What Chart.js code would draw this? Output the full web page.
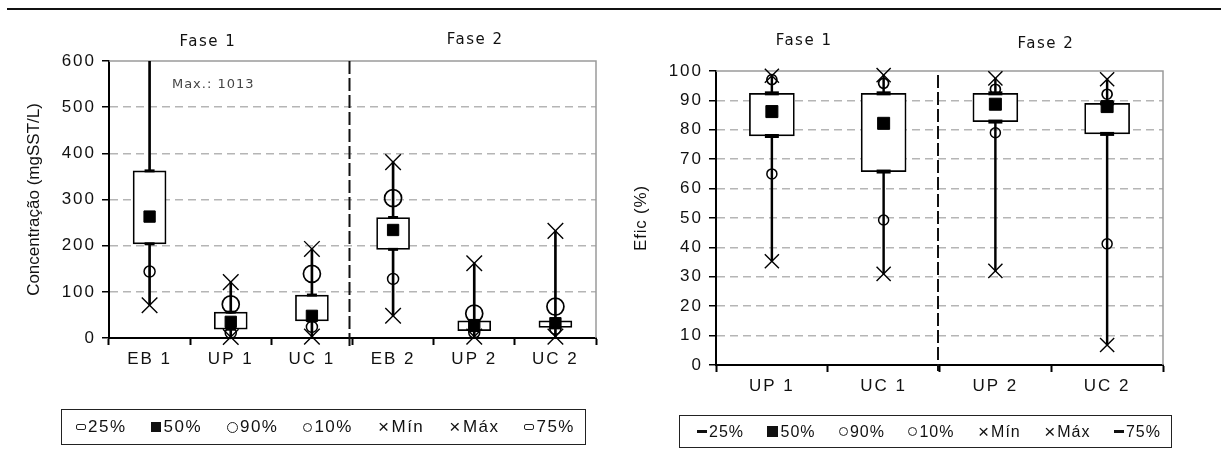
<!DOCTYPE html>
<html>
<head>
<meta charset="utf-8">
<script src="https://cdn.jsdelivr.net/npm/chart.js@4.4.1/dist/chart.umd.min.js"></script>
<style>
  body { margin: 0; width: 1221px; height: 457px; background: #fff; position: relative; overflow: hidden; }
  #rule { position: absolute; left: 7px; top: 8px; width: 1214px; height: 2px; background: #111; }
  #leftChart { position: absolute; left: 0; top: 0; }
  #rightChart { position: absolute; left: 610px; top: 0; }
  .legend { position: absolute; box-sizing: border-box; border: 1.5px solid #222; display: flex; align-items: center; justify-content: space-between; color: #111; white-space: nowrap; }
  .legend .item { display: flex; align-items: center; }
  .legend .mk { display: inline-block; box-sizing: border-box; margin-right: 2px; }
  .legend .x { font-size: 19px; margin-right: 1px; }
  #legendLeft { left: 61px; top: 409px; width: 525px; height: 36px; padding: 0 10px 0 14px; font: 17px "Liberation Sans", Arial, sans-serif; letter-spacing: 1.5px; }
  #legendRight { left: 679px; top: 415px; width: 493px; height: 33px; padding: 0 10px 0 17px; font: 16px "Liberation Sans Narrow", "Liberation Sans", Arial, sans-serif; letter-spacing: 1px; }
</style>
</head>
<body>
<div id="rule"></div>
<canvas id="leftChart" width="610" height="457"></canvas>
<canvas id="rightChart" width="611" height="457"></canvas>
<div id="legendLeft" class="legend"></div>
<div id="legendRight" class="legend"></div>
<script>
// series names, same order as the legend
const seriesNames = ['25%', '50%', '90%', '10%', 'Mín', 'Máx', '75%'];

// left: concentration (mgSST/L)
const leftLabels = ['EB 1', 'UP 1', 'UC 1', 'EB 2', 'UP 2', 'UC 2'];
const leftMin = [71, 2, 3, 48, 3, 3];
const leftP10 = [144, 11, 24, 128, 12, 20];
const leftP25 = [204, 19, 37, 192, 16, 23];
const leftP50 = [263, 35, 48, 234, 28, 32];
const leftP75 = [362, 56, 93, 261, 37, 37];
const leftP90 = [null, 73, 139, 303, 53, 68];
const leftMax = [1013, 121, 193, 381, 162, 232];
const leftTicks = [0, 100, 200, 300, 400, 500, 600];

// right: efficiency (%)
const rightLabels = ['UP 1', 'UC 1', 'UP 2', 'UC 2'];
const rightMin = [35.3, 31, 32, 6.8];
const rightP10 = [65, 49.3, 79, 41.2];
const rightP25 = [77.9, 65.8, 82.8, 78.6];
const rightP50 = [86.2, 82.2, 88.7, 87.9];
const rightP75 = [92.4, 92.4, 92.4, 89];
const rightP90 = [97.1, 95.8, 93.8, 92.1];
const rightMax = [98.4, 98.6, 97.5, 97.2];
const rightTicks = [0, 10, 20, 30, 40, 50, 60, 70, 80, 90, 100];

const tickFont = { family: '"Liberation Sans", Arial, sans-serif', size: 17 };

// frame, phase divider, phase titles and notes; also letter spacing of the stretched Excel text
const boxDecor = {
  id: 'boxDecor',
  beforeDraw(chart, args, o) {
    chart.ctx.letterSpacing = o.titleSpacing;
  },
  beforeDatasetsDraw(chart, args, o) {
    const { ctx, chartArea: a, scales: { x } } = chart;
    ctx.save();
    ctx.strokeStyle = '#9a9a9a';
    ctx.lineWidth = 1.5;
    ctx.beginPath();
    ctx.moveTo(a.left, a.top);
    ctx.lineTo(a.right, a.top);
    ctx.lineTo(a.right, a.bottom);
    ctx.stroke();

    const xd = (x.getPixelForValue(o.splitAfter) + x.getPixelForValue(o.splitAfter + 1)) / 2 + o.splitShift;
    ctx.strokeStyle = '#111';
    ctx.lineWidth = 2;
    ctx.setLineDash([13, 4]);
    ctx.beginPath();
    ctx.moveTo(xd, a.top + o.splitTop);
    ctx.lineTo(xd, a.bottom + o.splitBelow);
    ctx.stroke();
    ctx.restore();
  },
  afterDatasetsDraw(chart, args, o) {
    chart.ctx.letterSpacing = o.tickSpacing;
  },
  afterDraw(chart, args, o) {
    const { ctx, chartArea: a, scales: { x, y } } = chart;
    ctx.save();
    ctx.textAlign = 'center';
    ctx.textBaseline = 'middle';
    ctx.letterSpacing = '1.5px';
    ctx.font = '15px "DejaVu Sans", sans-serif';
    ctx.fillStyle = '#111';
    o.phases.forEach(p => ctx.fillText(p.text, x.getPixelForDecimal(p.at), a.top + p.dy));
    ctx.font = '13px "DejaVu Sans", sans-serif';
    ctx.fillStyle = '#444';
    ctx.letterSpacing = '1px';
    (o.notes || []).forEach(n => ctx.fillText(n.text, x.getPixelForDecimal(n.at), y.getPixelForValue(n.value)));
    ctx.restore();
    ctx.letterSpacing = '0px';
  }
};

function boxChart(id, labels, s, st) {
  const marker = (label, data, style, radius, width, fill) => ({
    type: 'line', label, data, showLine: false, clip: false,
    pointStyle: style, pointRadius: radius, pointBorderWidth: width,
    pointBorderColor: '#000', pointBackgroundColor: fill,
    borderColor: '#000', backgroundColor: fill
  });
  return new Chart(document.getElementById(id), {
    type: 'bar',
    data: {
      labels,
      datasets: [
        marker(seriesNames[0], s.p25, 'line', st.qR, st.qW, '#000'),
        marker(seriesNames[6], s.p75, 'line', st.qR, st.qW, '#000'),
        marker(seriesNames[1], s.p50, 'rect', st.medR, 1, '#000'),
        marker(seriesNames[2], s.p90, 'circle', st.p90R, 1.7, 'rgba(0,0,0,0)'),
        marker(seriesNames[3], s.p10, 'circle', st.p10R, 1.5, 'rgba(0,0,0,0)'),
        marker(seriesNames[4], s.min, 'crossRot', st.xR, 1.4, '#000'),
        marker(seriesNames[5], s.max, 'crossRot', st.xR, 1.4, '#000'),
        {
          label: 'box', data: labels.map((_, i) => [s.p25[i], s.p75[i]]),
          grouped: false, barThickness: st.boxW, backgroundColor: '#fff',
          borderColor: '#000', borderWidth: 1.7, borderSkipped: false
        },
        {
          label: 'whisker', data: labels.map((_, i) => [s.min[i], s.max[i]]),
          grouped: false, barThickness: st.whiskerW, backgroundColor: '#000', borderWidth: 0
        }
      ]
    },
    options: {
      responsive: false,
      animation: false,
      layout: { padding: st.padding },
      plugins: {
        legend: { display: false },
        tooltip: { enabled: false },
        boxDecor: st.decor
      },
      scales: {
        x: {
          grid: { offset: true, drawOnChartArea: false, tickLength: 7, tickColor: '#000', tickWidth: 2 },
          border: { color: '#000', width: 2 },
          ticks: { font: tickFont, color: '#111', padding: 4, maxRotation: 0, autoSkip: false, z: 1 },
          afterFit(scale) { scale.height = 40; }
        },
        y: {
          min: st.ticks[0],
          max: st.ticks[st.ticks.length - 1],
          afterBuildTicks(scale) { scale.ticks = st.ticks.map(v => ({ value: v })); },
          ticks: { font: tickFont, color: '#111', padding: 6, z: 1 },
          grid: {
            color: c => (c.tick && (c.tick.value === st.ticks[0] || c.tick.value === st.ticks[st.ticks.length - 1])) ? 'rgba(0,0,0,0)' : '#b5b5b5',
            lineWidth: 1.5, tickColor: '#000', tickLength: 7, tickWidth: 1.5
          },
          border: { color: '#000', width: 2, dash: [8, 5] },
          title: { display: true, text: st.title, font: tickFont, color: '#111', padding: { top: st.titlePad, bottom: 0 } },
          afterFit(scale) { scale.width = st.axisW; }
        }
      }
    },
    plugins: [boxDecor]
  });
}

boxChart('leftChart', leftLabels,
  { min: leftMin, p10: leftP10, p25: leftP25, p50: leftP50, p75: leftP75, p90: leftP90, max: leftMax },
  {
    ticks: leftTicks, title: 'Concentração (mgSST/L)', titlePad: 24, axisW: 109,
    padding: { top: 61, right: 14, bottom: 79, left: 0 },
    boxW: 33, whiskerW: 2, qR: 5, qW: 3, medR: 8, p90R: 8.5, p10R: 5.5, xR: 11,
    decor: {
      titleSpacing: '0px', tickSpacing: '2px',
      splitAfter: 2, splitShift: -3, splitTop: 0, splitBelow: 9,
      phases: [{ text: 'Fase 1', at: 0.203, dy: -19 }, { text: 'Fase 2', at: 0.752, dy: -21 }],
      notes: [{ text: 'Max.: ' + leftMax[0], at: 0.214, value: 548 }]
    }
  });

boxChart('rightChart', rightLabels,
  { min: rightMin, p10: rightP10, p25: rightP25, p50: rightP50, p75: rightP75, p90: rightP90, max: rightMax },
  {
    ticks: rightTicks, title: 'Efic (%)', titlePad: 21, axisW: 106,
    padding: { top: 71, right: 58, bottom: 52, left: 0 },
    boxW: 45, whiskerW: 1.8, qR: 7, qW: 4, medR: 8.5, p90R: 5, p10R: 5, xR: 10,
    decor: {
      titleSpacing: '0.8px', tickSpacing: '2px',
      splitAfter: 1, splitShift: -1.5, splitTop: 4, splitBelow: 6,
      phases: [{ text: 'Fase 1', at: 0.197, dy: -30 }, { text: 'Fase 2', at: 0.738, dy: -27 }]
    }
  });

// html legends built from the series names
function buildLegend(id, kind) {
  const box = document.getElementById(id);
  const markStyle = {
    left: {
      '25%': 'width:10px;height:6px;border:1.5px solid #222;background:#fff;border-radius:2px;',
      '75%': 'width:10px;height:6px;border:1.5px solid #222;background:#fff;border-radius:2px;',
      '50%': 'width:10px;height:10px;background:#111;',
      '90%': 'width:11px;height:11px;border:1.5px solid #222;border-radius:50%;',
      '10%': 'width:9px;height:9px;border:1.5px solid #222;border-radius:50%;'
    },
    right: {
      '25%': 'width:10px;height:3.5px;background:#111;',
      '75%': 'width:10px;height:3.5px;background:#111;',
      '50%': 'width:11px;height:11px;background:#111;',
      '90%': 'width:9px;height:9px;border:1.5px solid #222;border-radius:50%;',
      '10%': 'width:9px;height:9px;border:1.5px solid #222;border-radius:50%;'
    }
  }[kind];
  seriesNames.forEach(name => {
    const item = document.createElement('span');
    item.className = 'item';
    if (markStyle[name]) {
      const m = document.createElement('span');
      m.className = 'mk';
      m.style.cssText = markStyle[name];
      item.appendChild(m);
    } else {
      const m = document.createElement('span');
      m.className = 'x';
      m.textContent = '×';
      item.appendChild(m);
    }
    item.appendChild(document.createTextNode(name));
    box.appendChild(item);
  });
}
buildLegend('legendLeft', 'left');
buildLegend('legendRight', 'right');
</script>
</body>
</html>
